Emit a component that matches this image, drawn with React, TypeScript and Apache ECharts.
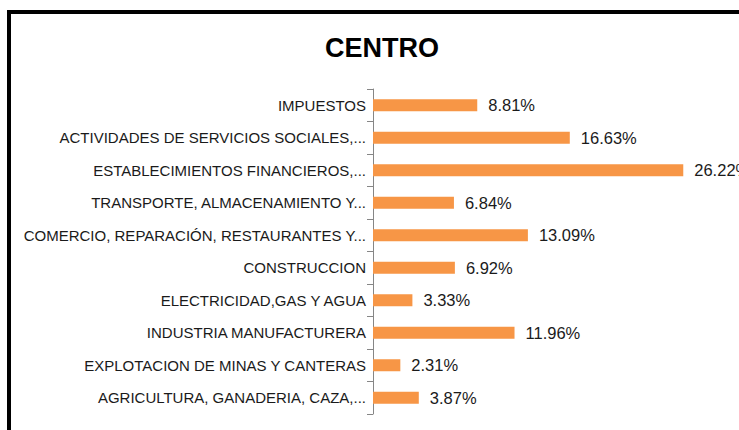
import React, { useEffect, useRef } from "react";
import * as echarts from "echarts";

const categories = [
  "AGRICULTURA, GANADERIA, CAZA,...",
  "EXPLOTACION DE MINAS Y CANTERAS",
  "INDUSTRIA MANUFACTURERA",
  "ELECTRICIDAD,GAS Y AGUA",
  "CONSTRUCCION",
  "COMERCIO, REPARACIÓN, RESTAURANTES Y...",
  "TRANSPORTE, ALMACENAMIENTO Y...",
  "ESTABLECIMIENTOS FINANCIEROS,...",
  "ACTIVIDADES DE SERVICIOS SOCIALES,...",
  "IMPUESTOS",
];
const values = [3.87, 2.31, 11.96, 3.33, 6.92, 13.09, 6.84, 26.22, 16.63, 8.81];
const titleText = "CENTRO";

export default function App() {
  const ref = useRef<HTMLDivElement>(null);
  useEffect(() => {
    document.body.style.margin = "0";
    const chart = echarts.init(ref.current!, null, { renderer: "svg" });
    chart.setOption({
      animation: false,
      backgroundColor: "#ffffff",
      title: {
        text: titleText,
        left: 325,
        top: 34,
        padding: 0,
        textStyle: {
          fontFamily: "Liberation Sans",
          fontWeight: "bold",
          fontSize: 27,
          color: "#000000",
        },
      },
      graphic: [
        {
          type: "line",
          shape: { x1: 9, y1: 10, x2: 9, y2: 440 },
          style: { stroke: "#000000", lineWidth: 4 },
        },
        {
          type: "line",
          shape: { x1: 7, y1: 12, x2: 760, y2: 12 },
          style: { stroke: "#000000", lineWidth: 4 },
        },
      ],
      grid: { left: 373, top: 89, bottom: 16, width: 355, containLabel: false },
      xAxis: {
        type: "value",
        min: 0,
        max: 30,
        show: false,
        splitLine: { show: false },
      },
      yAxis: {
        type: "category",
        data: categories,
        axisLine: { show: true, lineStyle: { color: "#868686", width: 1 } },
        axisTick: { show: true, length: 6, lineStyle: { color: "#868686" } },
        axisLabel: {
          margin: 7,
          fontFamily: "Liberation Sans",
          fontSize: 15,
          color: "#1a1a1a",
        },
      },
      series: [
        {
          type: "bar",
          data: values,
          barWidth: 12,
          itemStyle: { color: "#F79646" },
          label: {
            show: true,
            position: "right",
            distance: 11,
            formatter: (p: any) => p.value.toFixed(2) + "%",
            fontFamily: "Liberation Sans",
            fontSize: 16.5,
            color: "#1a1a1a",
          },
        },
      ],
    });
    return () => chart.dispose();
  }, []);
  return <div ref={ref} style={{ width: 739, height: 430 }} />;
}
